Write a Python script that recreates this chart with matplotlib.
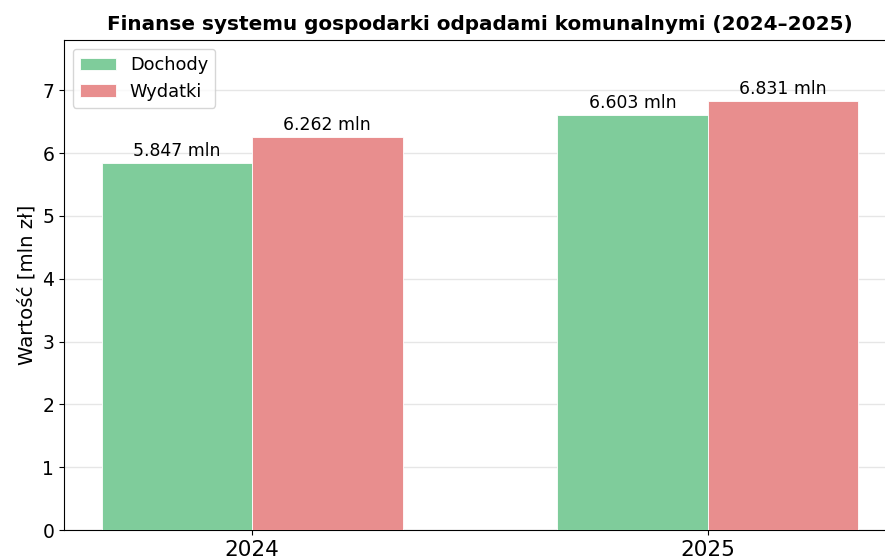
import numpy as np
import matplotlib.pyplot as plt

years = ["2024", "2025"]
dochody = [5.847, 6.603]
wydatki = [6.262, 6.831]

W, H = 885, 559
fig = plt.figure(figsize=(W / 100, H / 100), dpi=100)
# axes extends past the right/bottom border like the cropped original
ax = fig.add_axes([64 / W, (H - 530) / H, (896 - 64) / W, (530 - 40) / H])

x = np.arange(len(years))
width = 0.33
b1 = ax.bar(x - width / 2, dochody, width, color="#7fcc9b", edgecolor="white",
            linewidth=0.6, label="Dochody", zorder=3)
b2 = ax.bar(x + width / 2, wydatki, width, color="#e88e8e", edgecolor="white",
            linewidth=0.6, label="Wydatki", zorder=3)

for bars in (b1, b2):
    ax.bar_label(bars, labels=[f"{v:.3f} mln" for v in bars.datavalues],
                 padding=2, fontsize=12.4)

ax.set_xticks(x)
ax.set_xticklabels(years, fontsize=15.5)
ax.set_ylim(0, 7.8)
ax.tick_params(axis="y", labelsize=13.5)
ax.set_ylabel("Wartość [mln zł]", fontsize=14.2)
ax.set_title("Finanse systemu gospodarki odpadami komunalnymi (2024–2025)",
             fontsize=14.4, fontweight="bold", pad=7)
ax.grid(axis="y", color="#e6e6e6", linewidth=1, zorder=0)
ax.set_axisbelow(True)
ax.legend(loc="upper left", fontsize=12.8)

fig.savefig("out.png", dpi=100)
